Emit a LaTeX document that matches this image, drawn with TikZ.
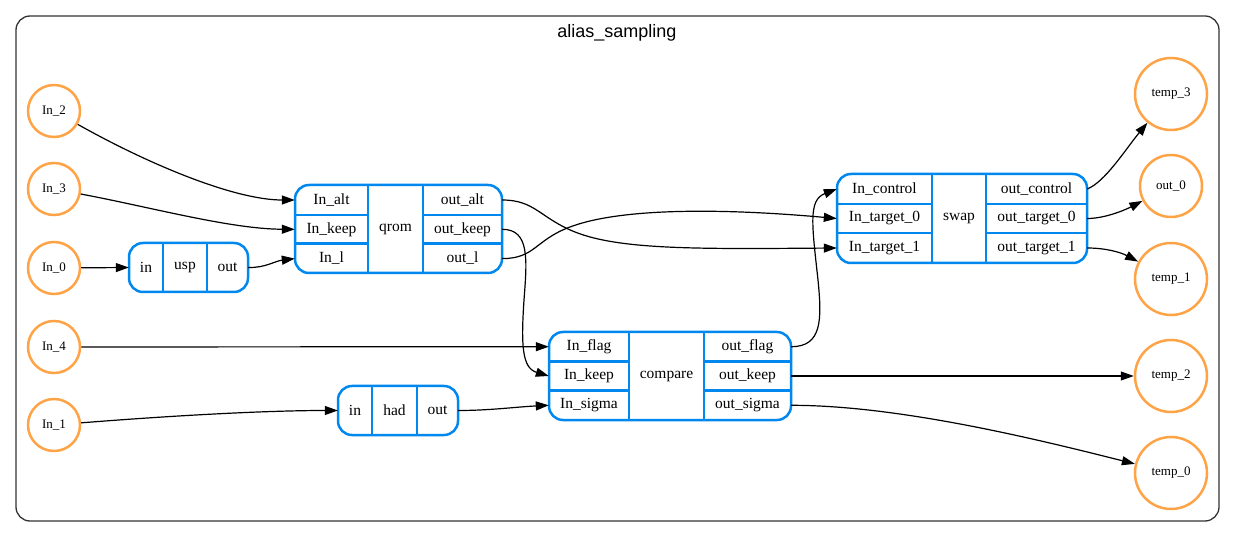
\documentclass[tikz,border=0pt]{standalone}
\usepackage{fontspec}
\setmainfont{Liberation Serif}
\newfontfamily\titlefont{Liberation Sans}
\usetikzlibrary{arrows.meta}
\definecolor{qorange}{RGB}{255,163,71}
\definecolor{qblue}{RGB}{0,136,238}
\tikzset{
  cell/.style 2 args={inner sep=0pt, minimum width=#1, minimum height=#2, font=\fontsize{15.5}{18}\selectfont},
  recbox/.style 2 args={draw=qblue, line width=2.5pt, rounded corners=14pt, inner sep=0pt, minimum width=#1, minimum height=#2},
  div/.style={draw=qblue, line width=2.5pt},
  qubit/.style={circle, draw=qorange, line width=2.5pt, inner sep=0pt, minimum size=#1, font=\fontsize{13}{15}\selectfont},
  edge/.style={draw=black, line width=1.2pt, -{Triangle[length=13pt,width=9pt]}},
  frame/.style={draw=black!80, line width=1.3pt, rounded corners=14pt},
}
\begin{document}
\begin{tikzpicture}[x=1pt,y=-1pt]
\useasboundingbox (0,0) rectangle (1235,537);
\draw[frame] (16,16) rectangle (1219,521);
\node[font=\titlefont\fontsize{18}{21}\selectfont] (title) at (617,33) {alias\_sampling};

% input qubits
\node[qubit=52pt] (In_2) at (54,111) {In\_2};
\node[qubit=52pt] (In_3) at (54,189) {In\_3};
\node[qubit=52pt] (In_0) at (54,268) {In\_0};
\node[qubit=52pt] (In_4) at (54,347) {In\_4};
\node[qubit=52pt] (In_1) at (54,425) {In\_1};
% output qubits
\node[qubit=72pt] (temp_3) at (1171,94) {temp\_3};
\node[qubit=62pt] (out_0) at (1171,186) {out\_0};
\node[qubit=72pt] (temp_1) at (1171,279) {temp\_1};
\node[qubit=72pt] (temp_2) at (1171,376) {temp\_2};
\node[qubit=72pt] (temp_0) at (1171,473) {temp\_0};

% usp
\node[recbox={119pt}{49pt}] (usp) at (188.5,267.5) {};
\node[cell={34pt}{49pt}] (usp_in) at (146,267.5) {in};
\node[cell={44pt}{49pt}] (usp_name) at (185,267.5) {usp};
\node[cell={41pt}{49pt}] (usp_out) at (227.5,267.5) {out};
\draw[div] (usp_in.north east) -- (usp_in.south east);
\draw[div] (usp_out.north west) -- (usp_out.south west);

% had
\node[recbox={120pt}{49pt}] (had) at (398,410.5) {};
\node[cell={34pt}{49pt}] (had_in) at (355,410.5) {in};
\node[cell={45pt}{49pt}] (had_name) at (394.5,410.5) {had};
\node[cell={41pt}{49pt}] (had_out) at (437.5,410.5) {out};
\draw[div] (had_in.north east) -- (had_in.south east);
\draw[div] (had_out.north west) -- (had_out.south west);

% qrom
\node[recbox={207pt}{88pt}] (qrom) at (398.5,229) {};
\node[cell={73pt}{29.3pt}] (qrom_in_alt) at (331.5,200) {In\_alt};
\node[cell={73pt}{29.3pt}] (qrom_in_keep) at (331.5,229.3) {In\_keep};
\node[cell={73pt}{29.3pt}] (qrom_in_l) at (331.5,258.6) {In\_l};
\node[cell={55pt}{88pt}] (qrom_name) at (395.5,229) {qrom};
\node[cell={79pt}{29.3pt}] (qrom_out_alt) at (462.5,200) {out\_alt};
\node[cell={79pt}{29.3pt}] (qrom_out_keep) at (462.5,229.3) {out\_keep};
\node[cell={79pt}{29.3pt}] (qrom_out_l) at (462.5,258.6) {out\_l};
\draw[div] (qrom_in_alt.north east) -- (qrom_in_l.south east);
\draw[div] (qrom_out_alt.north west) -- (qrom_out_l.south west);
\draw[div] (qrom_in_alt.south west) -- (qrom_in_alt.south east);
\draw[div] (qrom_in_l.north west) -- (qrom_in_l.north east);
\draw[div] (qrom_out_alt.south west) -- (qrom_out_alt.south east);
\draw[div] (qrom_out_l.north west) -- (qrom_out_l.north east);

% compare
\node[recbox={242pt}{88pt}] (compare) at (670,376) {};
\node[cell={80pt}{29.3pt}] (cmp_in_flag) at (589,346.7) {In\_flag};
\node[cell={80pt}{29.3pt}] (cmp_in_keep) at (589,376) {In\_keep};
\node[cell={80pt}{29.3pt}] (cmp_in_sigma) at (589,405.3) {In\_sigma};
\node[cell={75pt}{88pt}] (cmp_name) at (666.5,376) {compare};
\node[cell={87pt}{29.3pt}] (cmp_out_flag) at (747.5,346.7) {out\_flag};
\node[cell={87pt}{29.3pt}] (cmp_out_keep) at (747.5,376) {out\_keep};
\node[cell={87pt}{29.3pt}] (cmp_out_sigma) at (747.5,405.3) {out\_sigma};
\draw[div] (cmp_in_flag.north east) -- (cmp_in_sigma.south east);
\draw[div] (cmp_out_flag.north west) -- (cmp_out_sigma.south west);
\draw[div] (cmp_in_flag.south west) -- (cmp_in_flag.south east);
\draw[div] (cmp_in_sigma.north west) -- (cmp_in_sigma.north east);
\draw[div] (cmp_out_flag.south west) -- (cmp_out_flag.south east);
\draw[div] (cmp_out_sigma.north west) -- (cmp_out_sigma.north east);

% swap
\node[recbox={250pt}{89pt}] (swap) at (962,218.5) {};
\node[cell={95pt}{29.7pt}] (swap_in_c) at (884.5,189) {In\_control};
\node[cell={95pt}{29.7pt}] (swap_in_t0) at (884.5,218.5) {In\_target\_0};
\node[cell={95pt}{29.7pt}] (swap_in_t1) at (884.5,248) {In\_target\_1};
\node[cell={54pt}{89pt}] (swap_name) at (959,218.5) {swap};
\node[cell={101pt}{29.7pt}] (swap_out_c) at (1036.5,189) {out\_control};
\node[cell={101pt}{29.7pt}] (swap_out_t0) at (1036.5,218.5) {out\_target\_0};
\node[cell={101pt}{29.7pt}] (swap_out_t1) at (1036.5,248) {out\_target\_1};
\draw[div] (swap_in_c.north east) -- (swap_in_t1.south east);
\draw[div] (swap_out_c.north west) -- (swap_out_t1.south west);
\draw[div] (swap_in_c.south west) -- (swap_in_c.south east);
\draw[div] (swap_in_t1.north west) -- (swap_in_t1.north east);
\draw[div] (swap_out_c.south west) -- (swap_out_c.south east);
\draw[div] (swap_out_t1.north west) -- (swap_out_t1.north east);

% edges
\draw[edge] (In_2) .. controls (150,165) and (235,200) .. (qrom_in_alt.west);
\draw[edge] (In_3) .. controls (150,207) and (230,229) .. (qrom_in_keep.west);
\draw[edge] (In_0) -- (usp_in.west);
\draw[edge] (usp_out.east) .. controls (265,268) and (275,261) .. (qrom_in_l.west);
\draw[edge] (qrom_out_alt.east) .. controls (535,200) and (540,218) .. (575,232) .. controls (620,250) and (700,249) .. (swap_in_t1.west);
\draw[edge] (qrom_out_l.east) .. controls (535,258.6) and (535,240) .. (570,227) .. controls (620,208) and (720,208) .. (swap_in_t0.west);
\draw[edge] (qrom_out_keep.east) .. controls (530,229.3) and (527,260) .. (524,300) .. controls (521,345) and (522,368) .. (cmp_in_keep.west);
\draw[edge] (In_4) -- (cmp_in_flag.west);
\draw[edge] (In_1) .. controls (180,415) and (270,410.5) .. (had_in.west);
\draw[edge] (had_out.east) .. controls (490,410.5) and (515,407) .. (cmp_in_sigma.west);
\draw[edge] (cmp_out_flag.east) .. controls (822,346.7) and (822,320) .. (818,280) .. controls (812,225) and (808,200) .. (swap_in_c.west);
\draw[edge] (cmp_out_keep.east) -- (temp_2);
\draw[edge] (cmp_out_sigma.east) .. controls (900,405.3) and (1040,440) .. (temp_0);
\draw[edge] (swap_out_c.east) .. controls (1105,182) and (1125,150) .. (temp_3);
\draw[edge] (swap_out_t0.east) .. controls (1105,218.5) and (1125,210) .. (out_0);
\draw[edge] (swap_out_t1.east) .. controls (1105,248) and (1120,252) .. (temp_1);
\end{tikzpicture}
\end{document}
